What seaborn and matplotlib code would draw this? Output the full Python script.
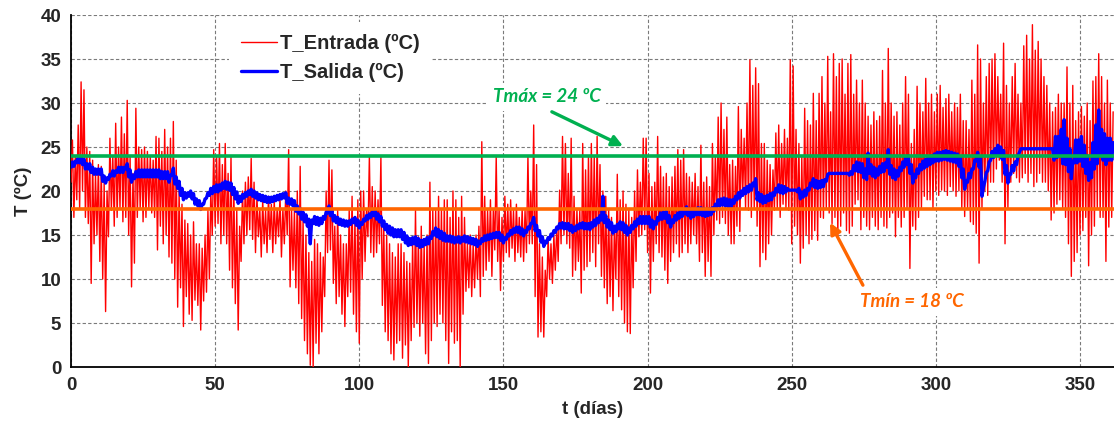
import numpy as np
import pandas as pd
import matplotlib
matplotlib.use("Agg")
import matplotlib.pyplot as plt
import seaborn as sns

# ---------------- data ----------------
dias = list(range(362))

# T_Entrada: daily maximum / minimum (ºC)
t_entrada_max = [
    25.8, 24.0, 27.5, 32.4, 31.5, 25.0, 24.5, 23.5, 22.0, 23.0,
    22.8, 21.0, 20.0, 26.0, 24.0, 27.7, 25.0, 28.4, 26.5, 30.3,
    24.0, 22.0, 29.4, 25.0, 24.7, 25.0, 24.5, 24.0, 23.5, 26.2,
    26.0, 24.5, 27.0, 25.0, 26.0, 27.9, 23.5, 20.0, 18.5, 16.7,
    16.3, 15.0, 16.5, 14.0, 14.0, 13.5, 15.0, 17.8, 20.0, 24.7,
    24.0, 25.4, 23.0, 25.4, 22.0, 24.0, 20.0, 17.8, 16.0, 20.0,
    21.0, 21.6, 23.7, 21.0, 19.4, 18.0, 19.0, 17.8, 19.4, 18.5,
    19.0, 18.0, 19.4, 18.0, 20.0, 24.7, 18.0, 17.8, 20.0, 22.8,
    16.7, 15.0, 13.0, 12.0, 14.5, 14.0, 13.0, 12.5, 20.0, 23.5,
    22.4, 16.0, 17.8, 15.0, 14.0, 14.0, 17.8, 19.4, 17.0, 19.0,
    20.0, 20.0, 18.0, 23.9, 20.5, 20.0, 19.0, 23.9, 16.0, 15.0,
    14.0, 13.0, 12.5, 14.0, 14.0, 13.0, 12.0, 11.8, 14.0, 17.8,
    14.8, 16.0, 14.0, 15.0, 21.0, 18.0, 17.8, 19.4, 18.0, 19.0,
    19.0, 17.0, 20.0, 19.0, 17.0, 19.4, 17.0, 14.0, 15.0, 14.0,
    15.0, 16.0, 25.6, 19.4, 17.8, 19.0, 18.0, 23.9, 18.0, 17.0,
    19.4, 18.5, 19.0, 17.8, 18.5, 17.0, 18.0, 17.8, 24.0, 20.0,
    27.5, 23.0, 14.0, 12.5, 11.0, 14.8, 14.0, 15.0, 16.0, 20.1,
    26.2, 25.4, 22.0, 26.0, 19.4, 18.0, 17.8, 25.4, 22.4, 24.0,
    25.4, 24.0, 26.2, 23.0, 20.0, 19.4, 18.0, 17.0, 16.0, 21.9,
    19.0, 20.0, 18.5, 17.8, 17.0, 20.0, 22.4, 21.0, 26.0, 26.0,
    22.0, 20.5, 21.0, 26.2, 22.8, 21.6, 22.0, 20.5, 21.6, 22.8,
    24.7, 23.5, 24.7, 22.0, 21.6, 21.0, 22.0, 20.5, 25.2, 21.0,
    21.6, 20.5, 25.4, 24.0, 28.4, 30.0, 27.0, 28.4, 23.0, 23.5,
    22.8, 29.6, 27.0, 26.0, 30.0, 34.9, 32.0, 34.0, 32.2, 25.4,
    25.4, 23.5, 23.0, 22.4, 26.6, 27.5, 25.4, 27.0, 26.0, 34.9,
    34.2, 27.0, 25.4, 24.0, 29.4, 28.0, 27.5, 31.1, 28.0, 31.1,
    33.0, 30.0, 35.3, 29.0, 35.6, 33.0, 34.5, 35.0, 31.0, 34.5,
    35.5, 31.0, 32.6, 30.0, 32.6, 30.0, 28.5, 27.5, 29.0, 28.0,
    28.5, 33.7, 30.0, 36.2, 30.0, 28.5, 29.0, 27.5, 30.0, 33.0,
    31.0, 25.4, 27.0, 31.9, 30.0, 29.0, 32.8, 30.0, 31.0, 29.0,
    31.0, 32.0, 29.5, 30.5, 31.0, 29.0, 30.0, 29.5, 31.0, 28.0,
    28.0, 27.0, 32.6, 31.0, 36.6, 35.0, 30.0, 33.0, 34.5, 35.0,
    35.6, 33.0, 31.0, 36.8, 32.0, 30.0, 33.0, 34.5, 31.0, 30.0,
    36.5, 37.7, 35.0, 38.9, 36.0, 37.0, 35.0, 33.0, 32.0, 30.0,
    29.0, 29.5, 31.0, 30.0, 30.0, 34.1, 30.0, 32.0, 28.0, 29.0,
    29.6, 28.5, 30.0, 28.0, 32.5, 33.0, 35.6, 33.0, 30.0, 32.6,
    30.0, 29.0,
]
t_entrada_min = [
    21.0, 17.0, 19.0, 18.0, 20.0, 17.0, 16.3, 9.5, 14.0, 15.0,
    12.0, 10.0, 6.3, 14.8, 17.8, 16.0, 17.0, 18.0, 16.5, 17.0,
    15.0, 9.1, 11.8, 17.0, 18.0, 16.5, 17.0, 18.0, 17.5, 17.0,
    13.3, 16.0, 14.0, 15.0, 12.5, 11.8, 10.0, 6.8, 9.0, 4.6,
    8.0, 6.0, 5.3, 7.6, 7.0, 4.2, 7.5, 8.5, 10.0, 15.0,
    16.0, 16.3, 14.0, 15.0, 14.0, 11.0, 9.0, 7.2, 4.2, 12.0,
    14.0, 15.0, 15.6, 14.5, 13.0, 14.8, 12.5, 14.0, 13.0, 14.5,
    13.0, 14.0, 14.8, 12.5, 14.0, 15.0, 9.1, 11.0, 9.0, 7.2,
    5.5, 3.0, 1.5, 0.2, 0.0, 2.7, 1.5, 4.0, 8.0, 13.0,
    13.3, 9.5, 7.2, 8.0, 6.0, 4.6, 8.0, 8.5, 6.0, 4.0,
    2.7, 10.0, 12.0, 14.8, 13.0, 12.5, 13.0, 14.0, 7.0, 4.0,
    3.0, 1.5, 0.8, 2.7, 3.0, 1.0, 2.5, 0.0, 3.0, 4.5,
    5.0, 3.5, 5.0, 1.5, 0.4, 3.0, 5.0, 4.6, 6.0, 5.0,
    3.0, 0.4, 4.0, 2.7, 3.0, 0.0, 6.0, 8.6, 9.0, 8.0,
    9.0, 10.0, 8.0, 10.3, 11.0, 12.0, 10.3, 13.3, 12.0, 8.7,
    12.0, 13.0, 12.5, 13.5, 12.0, 13.0, 12.5, 12.0, 13.0, 14.0,
    14.0, 8.0, 3.4, 4.0, 3.4, 8.0, 10.0, 9.5, 11.0, 12.0,
    14.0, 15.0, 14.0, 13.5, 10.3, 11.0, 12.0, 8.4, 11.0, 11.4,
    12.0, 13.0, 11.4, 14.0, 10.3, 9.0, 7.2, 8.0, 6.4, 10.0,
    8.0, 6.5, 5.0, 4.0, 3.8, 9.0, 12.0, 14.8, 15.0, 15.6,
    13.0, 8.4, 12.0, 14.0, 13.0, 12.5, 11.0, 9.5, 12.0, 13.0,
    14.0, 12.5, 13.0, 14.0, 13.0, 14.0, 15.0, 14.0, 12.0, 13.0,
    10.3, 12.0, 10.3, 15.0, 16.7, 16.3, 17.0, 16.3, 15.0, 14.0,
    14.0, 16.0, 15.4, 19.4, 18.0, 17.8, 17.0, 18.0, 16.0, 11.4,
    13.0, 12.2, 14.0, 15.0, 17.8, 18.0, 17.0, 18.5, 18.0, 17.8,
    14.0, 16.0, 15.0, 11.8, 13.5, 15.0, 14.0, 14.5, 15.5, 14.4,
    17.0, 16.9, 18.0, 17.5, 16.3, 17.0, 15.0, 16.0, 17.5, 15.5,
    15.2, 16.0, 18.5, 19.0, 15.6, 17.0, 16.0, 15.6, 17.0, 16.0,
    15.6, 17.0, 16.0, 15.8, 17.0, 17.5, 14.8, 17.0, 15.9, 17.0,
    18.0, 11.2, 16.0, 15.6, 17.0, 18.0, 19.4, 19.0, 19.0, 18.0,
    20.0, 19.5, 20.1, 20.0, 19.5, 20.5, 20.0, 19.4, 20.0, 18.0,
    17.1, 18.0, 16.5, 16.2, 15.2, 11.8, 18.0, 20.0, 19.5, 21.0,
    21.0, 22.5, 23.5, 21.0, 14.0, 18.0, 21.0, 22.0, 21.5, 21.0,
    21.5, 22.0, 21.0, 22.0, 20.5, 21.0, 22.0, 21.0, 21.0, 20.0,
    16.7, 17.5, 18.5, 19.0, 18.0, 17.0, 14.0, 10.3, 12.0, 13.0,
    15.0, 15.5, 17.0, 11.5, 15.0, 16.0, 18.0, 17.0, 17.0, 12.0,
    15.9, 17.0,
]

# T_Salida: daily maximum / minimum (ºC)
t_salida_max = [
    23.3, 23.4, 23.8, 23.8, 23.6, 23.1, 23.1, 22.7, 22.5, 22.5,
    22.5, 21.7, 21.5, 21.9, 22.3, 22.3, 22.7, 22.7, 22.7, 23.1,
    22.4, 21.8, 22.2, 22.4, 22.4, 22.4, 22.4, 22.4, 22.4, 22.4,
    22.4, 22.2, 22.2, 22.2, 21.8, 22.6, 21.6, 21.1, 20.3, 19.8,
    19.8, 20.0, 19.7, 19.1, 18.9, 18.5, 19.1, 19.8, 20.3, 20.5,
    20.7, 20.7, 20.9, 21.1, 21.0, 20.9, 20.4, 19.9, 19.4, 19.6,
    19.8, 20.0, 20.2, 20.0, 19.8, 19.6, 19.5, 19.4, 19.3, 19.3,
    19.4, 19.5, 19.6, 19.7, 19.8, 19.2, 19.1, 18.9, 18.3, 18.0,
    17.6, 17.3, 16.8, 16.7, 17.1, 17.0, 16.9, 17.1, 17.6, 18.3,
    17.8, 17.2, 17.0, 16.8, 16.7, 16.6, 16.6, 16.8, 17.0, 16.7,
    16.4, 16.8, 17.2, 17.4, 17.6, 17.8, 17.4, 17.1, 16.6, 16.2,
    16.0, 15.8, 15.6, 15.6, 15.6, 15.3, 14.9, 14.6, 14.7, 14.8,
    14.6, 14.4, 14.5, 14.7, 14.8, 15.4, 15.8, 15.6, 15.4, 15.2,
    14.9, 14.9, 14.8, 14.7, 14.8, 14.7, 14.9, 14.8, 14.7, 14.6,
    14.5, 14.3, 14.6, 14.9, 15.0, 15.1, 15.2, 15.3, 15.3, 15.0,
    14.7, 15.1, 15.5, 15.7, 15.9, 15.9, 15.7, 15.5, 15.9, 16.3,
    17.0, 16.1, 15.5, 14.8, 14.3, 14.7, 15.1, 15.5, 15.9, 16.3,
    16.4, 16.3, 16.3, 16.1, 15.9, 16.1, 16.3, 16.4, 16.3, 16.3,
    16.4, 16.7, 16.9, 17.2, 19.4, 17.2, 16.7, 16.4, 16.0, 16.2,
    16.5, 16.4, 16.1, 15.8, 16.1, 16.5, 16.8, 17.1, 17.1, 17.1,
    17.1, 16.7, 16.5, 17.0, 17.5, 17.6, 17.7, 17.2, 16.7, 17.2,
    17.5, 17.7, 17.9, 18.2, 18.0, 17.7, 17.9, 18.1, 18.1, 18.0,
    17.9, 18.0, 18.1, 18.5, 19.0, 19.1, 19.2, 19.1, 19.0, 19.0,
    19.4, 19.8, 20.0, 20.3, 20.5, 20.7, 20.9, 21.4, 19.8, 19.6,
    19.4, 19.5, 19.7, 19.8, 20.3, 20.7, 20.6, 20.5, 20.3, 20.1,
    20.1, 20.1, 20.3, 19.9, 20.1, 20.3, 20.9, 21.4, 21.2, 21.1,
    21.2, 21.3, 21.9, 22.0, 22.0, 22.0, 22.0, 22.0, 22.0, 22.0,
    22.2, 22.9, 23.3, 23.2, 23.1, 22.5, 24.3, 23.0, 22.7, 22.5,
    22.8, 23.1, 23.2, 24.7, 22.9, 22.5, 22.3, 22.7, 23.3, 23.7,
    24.0, 23.0, 21.9, 22.5, 23.0, 23.4, 23.6, 23.8, 24.0, 24.2,
    24.4, 24.4, 24.5, 24.6, 24.5, 24.4, 24.3, 24.2, 23.8, 22.5,
    21.2, 22.0, 22.5, 23.5, 24.4, 23.7, 20.4, 22.1, 23.3, 24.5,
    24.8, 25.2, 25.0, 24.6, 22.9, 21.9, 22.9, 23.3, 24.0, 24.8,
    24.8, 24.8, 24.8, 24.8, 24.8, 24.8, 24.8, 24.8, 24.8, 24.8,
    24.8, 26.2, 26.2, 27.0, 28.1, 26.0, 24.8, 23.4, 25.8, 25.8,
    26.2, 25.2, 24.0, 23.2, 25.5, 27.5, 29.2, 27.0, 26.5, 26.0,
    26.0, 25.5,
]
t_salida_min = [
    22.7, 22.8, 23.2, 23.2, 23.0, 22.5, 22.5, 22.1, 21.9, 21.9,
    21.9, 21.1, 20.9, 21.3, 21.7, 21.7, 22.1, 22.1, 22.1, 22.5,
    21.6, 21.0, 21.4, 21.6, 21.6, 21.6, 21.6, 21.6, 21.6, 21.6,
    21.6, 21.4, 21.4, 21.4, 21.0, 21.8, 20.8, 20.3, 19.5, 19.0,
    19.2, 19.4, 19.1, 18.5, 18.3, 17.9, 18.5, 19.2, 19.5, 19.7,
    19.9, 19.9, 20.1, 20.3, 20.2, 20.1, 19.6, 19.1, 18.6, 18.8,
    19.2, 19.4, 19.6, 19.4, 19.2, 19.0, 18.9, 18.8, 18.7, 18.7,
    18.8, 18.9, 19.0, 19.1, 19.2, 18.6, 18.5, 18.3, 17.7, 17.4,
    16.8, 16.5, 16.0, 14.0, 16.3, 16.2, 16.1, 16.3, 16.8, 17.5,
    17.2, 16.6, 16.4, 16.2, 16.1, 16.0, 16.0, 16.2, 16.4, 16.1,
    15.8, 16.2, 16.6, 16.8, 17.0, 17.2, 16.8, 16.5, 16.0, 15.6,
    15.2, 15.0, 14.8, 14.8, 14.8, 14.5, 14.1, 13.8, 13.9, 14.0,
    13.8, 13.6, 13.7, 13.9, 14.0, 14.6, 15.0, 14.8, 14.6, 14.4,
    14.3, 14.3, 14.2, 14.1, 14.2, 14.1, 14.3, 14.2, 14.1, 14.0,
    13.9, 13.7, 14.0, 14.3, 14.4, 14.5, 14.6, 14.7, 14.7, 14.4,
    14.1, 14.5, 14.9, 15.1, 15.3, 15.3, 15.1, 14.9, 15.3, 15.7,
    16.4, 15.5, 14.9, 14.2, 13.7, 14.1, 14.5, 14.9, 15.3, 15.7,
    15.8, 15.7, 15.7, 15.5, 15.3, 15.5, 15.7, 15.8, 15.7, 15.7,
    15.6, 15.9, 16.1, 16.4, 16.7, 16.4, 15.9, 15.6, 15.2, 15.4,
    15.7, 15.6, 15.3, 15.0, 15.3, 15.7, 16.0, 16.3, 16.3, 16.3,
    16.3, 15.9, 15.7, 16.2, 16.7, 16.8, 16.9, 16.4, 15.9, 16.4,
    16.7, 16.9, 17.1, 17.4, 17.2, 16.9, 17.1, 17.3, 17.3, 17.2,
    17.1, 17.2, 17.3, 17.7, 18.2, 18.3, 18.4, 18.3, 18.2, 18.2,
    18.6, 19.0, 19.2, 19.5, 19.7, 19.9, 20.1, 20.6, 19.0, 18.8,
    18.6, 18.7, 18.9, 19.0, 19.5, 19.9, 19.8, 19.7, 19.9, 20.1,
    20.1, 20.1, 19.9, 19.1, 19.3, 19.5, 20.1, 20.6, 20.4, 20.3,
    20.4, 20.5, 21.1, 22.0, 22.0, 22.0, 22.0, 22.0, 22.0, 22.0,
    21.8, 21.9, 22.3, 22.2, 22.1, 21.5, 21.3, 22.0, 21.7, 21.5,
    21.8, 22.1, 22.2, 22.7, 21.9, 21.5, 21.3, 21.7, 22.3, 22.7,
    23.0, 22.0, 20.9, 21.5, 22.0, 22.4, 22.6, 22.8, 23.0, 23.2,
    23.4, 23.4, 23.5, 23.6, 23.5, 23.4, 23.3, 23.2, 22.8, 21.5,
    20.2, 21.0, 21.5, 22.5, 23.4, 22.7, 19.4, 21.1, 22.3, 23.5,
    23.8, 24.2, 24.0, 23.6, 21.9, 20.9, 21.9, 22.3, 23.0, 24.4,
    24.8, 24.8, 24.8, 24.8, 24.8, 24.8, 24.8, 24.8, 24.8, 24.8,
    24.8, 23.5, 23.8, 24.0, 23.1, 23.0, 22.2, 21.4, 23.2, 23.2,
    23.4, 22.8, 22.0, 21.2, 21.5, 22.5, 23.1, 24.0, 23.5, 23.0,
    23.5, 23.5,
]

t_max_conf = 24   # Tmáx
t_min_conf = 18   # Tmín

x_ticks = [0, 50, 100, 150, 200, 250, 300, 350]
y_ticks = [0, 5, 10, 15, 20, 25, 30, 35, 40]

# ---------------- build long tables (min at day, max at day + 0.5) ----------------
def interleave(days, lo, hi):
    d = np.asarray(days, dtype=float)
    x = np.empty(2 * len(d)); y = np.empty(2 * len(d))
    x[0::2] = d; x[1::2] = d + 0.5
    y[0::2] = lo; y[1::2] = hi
    return pd.DataFrame({"t": x, "T": y})

df_in = interleave(dias, t_entrada_min, t_entrada_max)
df_out = interleave(dias, t_salida_min, t_salida_max)

# ---------------- plot ----------------
sns.set_style("white")
plt.rcParams["font.family"] = ["Liberation Sans", "DejaVu Sans"]

fig = plt.figure(figsize=(11.14, 4.29), dpi=100)
ax = fig.add_axes([71 / 1114, 1 - 367 / 429, 1 - 71 / 1114, (367 - 15) / 429])

RED = "#FF0000"
BLUE = "#0000FF"
GREEN = "#00B050"
ORANGE = "#FF6600"

sns.lineplot(data=df_in, x="t", y="T", ax=ax, color=RED, linewidth=1.0,
             estimator=None, sort=False, label="T_Entrada (ºC)", zorder=3)
sns.lineplot(data=df_out, x="t", y="T", ax=ax, color=BLUE, linewidth=2.4,
             estimator=None, sort=False, label="T_Salida (ºC)", zorder=4)

ax.axhline(t_max_conf, color=GREEN, linewidth=2.6, zorder=5)
ax.axhline(t_min_conf, color=ORANGE, linewidth=2.6, zorder=5)

ax.set_xlim(0, 361.8)
ax.set_ylim(0, 40)
ax.set_xticks(x_ticks)
ax.set_yticks(y_ticks)
ax.tick_params(axis="both", length=0, labelsize=13.5, pad=7)
for lab in ax.get_xticklabels() + ax.get_yticklabels():
    lab.set_fontweight("bold")

ax.grid(True, color="#7a7a7a", linestyle=(0, (3, 2)), linewidth=0.8, zorder=0)
ax.set_axisbelow(True)
for side in ["top", "right"]:
    ax.spines[side].set_visible(False)
for side in ["left", "bottom"]:
    ax.spines[side].set_color("black")
    ax.spines[side].set_linewidth(1.3)

ax.set_xlabel("t (días)", fontsize=13.5, fontweight="bold", labelpad=5)
ax.set_ylabel("T (ºC)", fontsize=13.5, fontweight="bold", labelpad=6)

leg = ax.legend(loc="upper left", bbox_to_anchor=(0.1515, 0.980), frameon=True,
                prop={"weight": "bold", "size": 14.5},
                handlelength=1.8, handletextpad=0.15, labelspacing=0.46,
                borderpad=0.6, borderaxespad=0.0)
leg.get_frame().set_facecolor("white")
leg.get_frame().set_edgecolor("none")
leg.get_frame().set_alpha(1.0)
leg.get_frame().set_boxstyle("square", pad=0)
leg.set_zorder(10)

ann_font = dict(family=["Lato", "Liberation Sans"], style="italic", weight="bold", size=13.5)
ax.text(165, 30.7, "Tmáx = 24 ºC", color=GREEN, ha="center", va="center",
        zorder=11, bbox=dict(facecolor="white", edgecolor="none", pad=4), **ann_font)
ax.annotate("", xy=(191.5, 25.1), xytext=(166.8, 29.0),
            arrowprops=dict(arrowstyle="-|>", color=GREEN, lw=2.4, mutation_scale=16,
                            shrinkA=0, shrinkB=0), zorder=11)
ax.text(291.7, 7.4, "Tmín = 18 ºC", color=ORANGE, ha="center", va="center",
        zorder=11, bbox=dict(facecolor="white", edgecolor="none", pad=4), **ann_font)
ax.annotate("", xy=(263.3, 16.4), xytext=(274.7, 9.3),
            arrowprops=dict(arrowstyle="-|>", color=ORANGE, lw=2.4, mutation_scale=16,
                            shrinkA=0, shrinkB=0), zorder=11)

fig.savefig("out.png", dpi=100)
